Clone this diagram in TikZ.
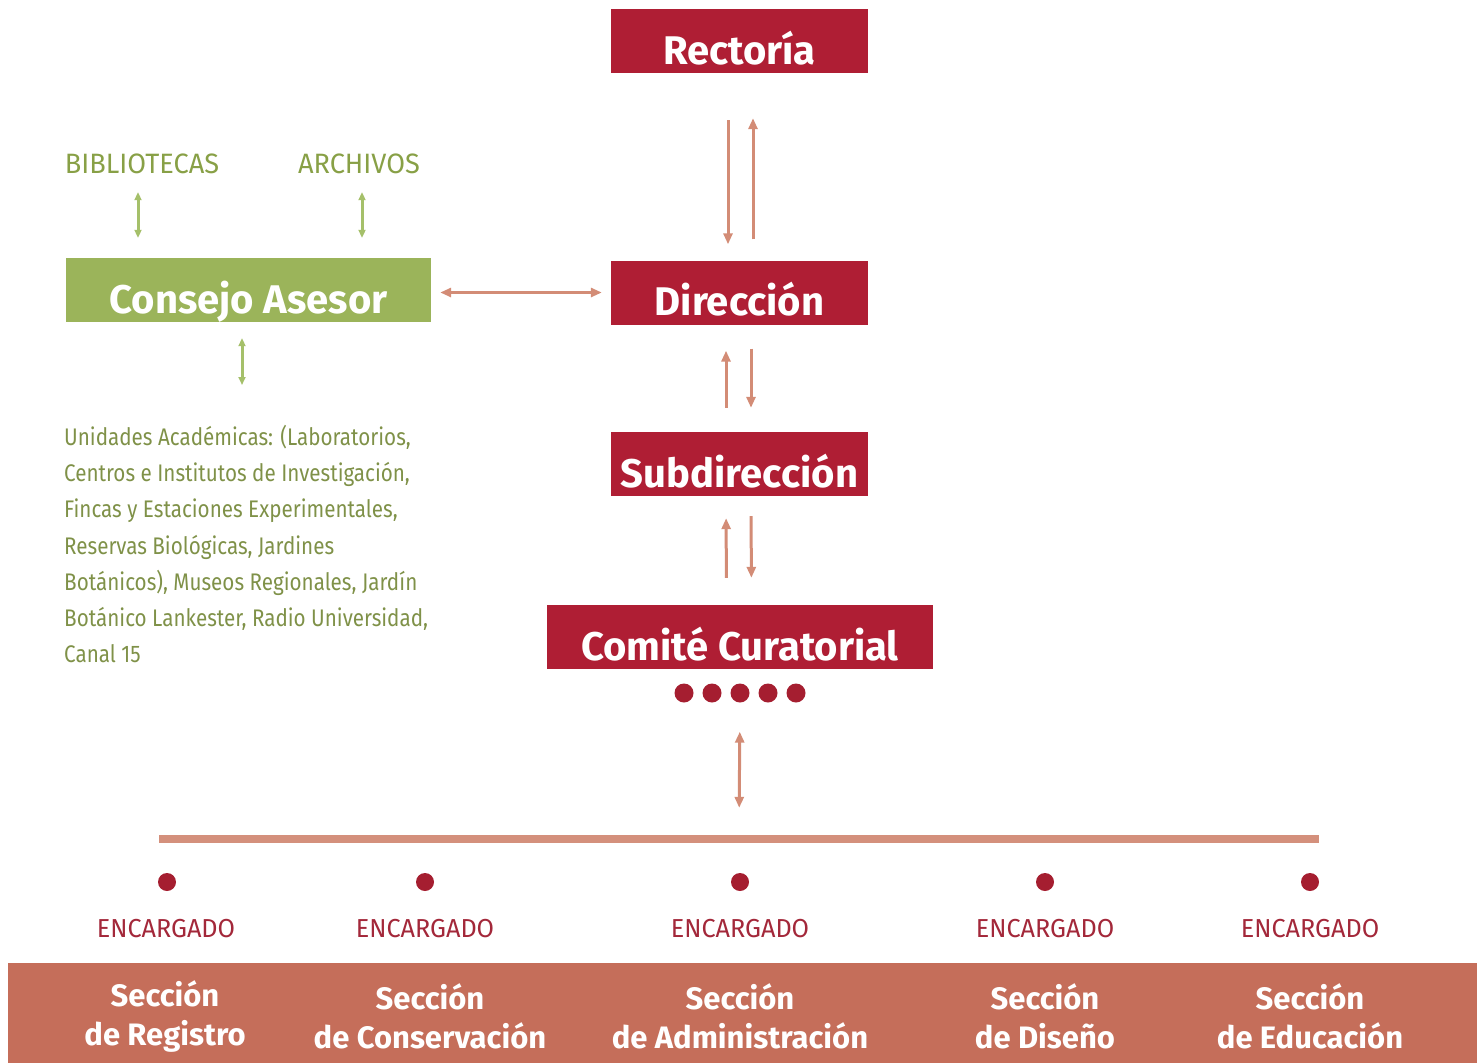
\documentclass[tikz,border=0pt]{standalone}
\usepackage{fontspec}
\setmainfont{Fira Sans}
\newfontfamily\hfont{Fira Sans}
\newfontfamily\nfont[FakeStretch=0.86]{Fira Sans}
\newfontfamily\cfont[FakeStretch=0.97]{Fira Sans}
\usetikzlibrary{arrows.meta}
\definecolor{crimson}{HTML}{AF1E34}
\definecolor{gbox}{HTML}{9BB45A}
\definecolor{gtext}{HTML}{7F9148}
\definecolor{gcap}{HTML}{88A046}
\definecolor{garr}{HTML}{A5C06A}
\definecolor{salmon}{HTML}{D38C76}
\definecolor{barc}{HTML}{D4907C}
\definecolor{bandc}{HTML}{C56E5A}
\definecolor{encc}{HTML}{A3283A}
\definecolor{dotc}{HTML}{A51E30}
\tikzset{
  redbox/.style={fill=crimson, text=white, inner sep=0pt, minimum height=64pt,
    text height=46pt, text depth=0pt,
    font=\hfont\bfseries\fontsize{40}{44}\selectfont},
  greenbox/.style={fill=gbox, text=white, inner sep=0pt, minimum height=64pt,
    text height=46pt, text depth=0pt,
    font=\hfont\bfseries\fontsize{40}{44}\selectfont},
  tipS/.tip={Triangle[length=11pt,width=9pt]},
  sarrow/.style={draw=salmon, line width=3pt, -tipS},
  sdouble/.style={draw=salmon, line width=3pt, tipS-tipS},
  gdouble/.style={draw=garr, line width=3pt, {Triangle[length=8pt,width=7pt]}-{Triangle[length=8pt,width=7pt]}},
  glabel/.style={text=gcap, inner sep=0pt, text height=20pt, text depth=0pt,
    font=\cfont\fontsize{28}{30}\selectfont},
  enclabel/.style={text=encc, inner sep=0pt, font=\cfont\fontsize{26}{28}\selectfont},
  reddot/.style={circle, fill=dotc, inner sep=0pt, minimum size=19pt},
  secttext/.style={text=white, align=center, inner sep=0pt,
    font=\hfont\bfseries\fontsize{31}{39}\selectfont},
}
\begin{document}
\begin{tikzpicture}[x=1pt,y=-1pt]
\useasboundingbox (0,0) rectangle (1477,1063);

% main boxes
\node[redbox, minimum width=257pt] (rect) at (739.5,41) {Rectoría};
\node[redbox, minimum width=257pt] (dir) at (739.5,292.5) {Dirección};
\node[redbox, minimum width=257pt] (sub) at (739.5,464) {Subdirección};
\node[redbox, minimum width=386pt] (com) at (740,637) {Comité Curatorial};
\node[greenbox, minimum width=365pt] (cons) at (248.5,290) {Consejo Asesor};

% green labels
\node[glabel] (bib) at (142,163) {BIBLIOTECAS};
\node[glabel] (arch) at (359,163) {ARCHIVOS};
\node[text=gtext, anchor=north west, align=left, inner sep=0pt,
  font=\nfont\fontsize{24}{36.2}\selectfont] (unid) at (64,425)
  {Unidades Académicas: (Laboratorios,\\
   Centros e Institutos de Investigación,\\
   Fincas y Estaciones Experimentales,\\
   Reservas Biológicas, Jardines\\
   Botánicos), Museos Regionales, Jardín\\
   Botánico Lankester, Radio Universidad,\\
   Canal 15};

% dots under committee
\foreach \i/\x in {1/684,2/712,3/740,4/768,5/796}{
  \node[reddot] (d\i) at (\x,693) {};
}

% horizontal bar
\node[fill=barc, inner sep=0pt, minimum width=1160pt, minimum height=8pt] (bar) at (739,839) {};

% bottom band
\node[fill=bandc, inner sep=0pt, minimum width=1469pt, minimum height=100pt] (band) at (742.5,1013) {};

% section names
\foreach \n/\x/\t in {reg/165/{Sección\\de Registro},
                      con/430/{Sección\\de Conservación},
                      adm/740/{Sección\\de Administración},
                      dis/1045/{Sección\\de Diseño},
                      edu/1310/{Sección\\de Educación}}{
  \node[secttext] (s\n) at (\x,1016) {\t};
}
% section dots
\foreach \n/\x in {reg/167,con/425,adm/740,dis/1045,edu/1310}{
  \node[reddot, minimum size=18pt] (p\n) at (\x,882) {};
}
% ENCARGADO labels
\foreach \n/\x in {reg/166,con/425,adm/740,dis/1045,edu/1310}{
  \node[enclabel] (e\n) at (\x,929) {ENCARGADO};
}

% connectors Rectoria <-> Direccion
\draw[sarrow, shorten <=47pt, shorten >=16pt] ([xshift=-11.5pt]rect.south) -- ([xshift=-11.5pt]dir.north);
\draw[sarrow, shorten <=21pt, shorten >=45pt] ([xshift=13.5pt]dir.north) -- ([xshift=13.5pt]rect.south);
% Direccion <-> Subdireccion
\draw[sarrow, shorten <=24pt, shorten >=26pt] ([xshift=-13.5pt]sub.north) -- ([xshift=-13.5pt]dir.south);
\draw[sarrow, shorten <=24pt, shorten >=24pt] ([xshift=11.5pt]dir.south) -- ([xshift=11.5pt]sub.north);
% Subdireccion <-> Comite
\draw[sarrow, shorten <=27pt, shorten >=22pt] ([xshift=-13.5pt]com.north) -- ([xshift=-13.5pt]sub.south);
\draw[sarrow, shorten <=20pt, shorten >=27pt] ([xshift=11.5pt]sub.south) -- ([xshift=11.5pt]com.north);
% Comite dots <-> bar
\draw[sdouble, shorten <=29pt, shorten >=27pt] (d3.south) -- (bar.north);
% Consejo <-> Direccion
\draw[sdouble, shorten <=9pt, shorten >=9pt] (cons.east |- dir.center) -- (dir.west);
% green connectors
\draw[gdouble, shorten <=19pt, shorten >=20pt] ([xshift=-4pt]bib.south) -- ([xshift=-4pt]bib.south |- cons.north);
\draw[gdouble, shorten <=19pt, shorten >=20pt] ([xshift=3pt]arch.south) -- ([xshift=3pt]arch.south |- cons.north);
\draw[gdouble, shorten <=16pt, shorten >=40pt] ([xshift=-6.5pt]cons.south) -- ([xshift=-6.5pt]cons.south |- unid.north);
\end{tikzpicture}
\end{document}
